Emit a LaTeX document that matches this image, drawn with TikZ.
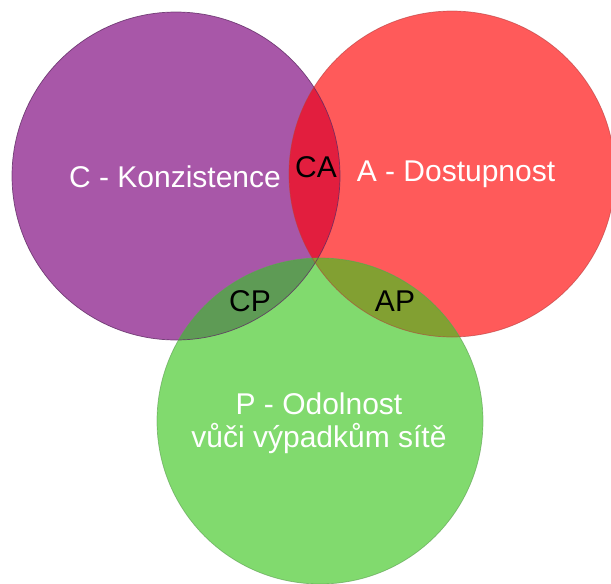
\documentclass[tikz,border=0pt]{standalone}
\usepackage{fontspec}
\setmainfont{Liberation Sans}
\definecolor{cfill}{HTML}{A857A8}
\definecolor{cline}{HTML}{5E2A63}
\definecolor{afill}{HTML}{FF5A5A}
\definecolor{aline}{HTML}{B43C3C}
\definecolor{pfill}{HTML}{81DA6E}
\definecolor{pline}{HTML}{5A9A50}
\definecolor{cafill}{HTML}{E21E3E}
\definecolor{cpfill}{HTML}{5E9B55}
\definecolor{apfill}{HTML}{82A032}
\tikzset{
  big/.style={font=\fontsize{30}{33}\selectfont, inner sep=0pt, align=center},
  setlabel/.style={big, text=white},
  pairlabel/.style={big, text=black},
}
\begin{document}
\begin{tikzpicture}[x=1pt,y=-1pt]
\useasboundingbox (0,0) rectangle (611,584);
% the three sets
\def\Cset{(176,176) circle[radius=164pt]}
\def\Aset{(452,174) circle[radius=163pt]}
\def\Pset{(320,421) circle[radius=163pt]}
\fill[cfill] \Cset;
\fill[afill] \Aset;
\fill[pfill] \Pset;
% pairwise overlaps
\begin{scope}\clip \Cset; \fill[cafill] \Aset; \end{scope}
\begin{scope}\clip \Cset; \fill[cpfill] \Pset; \end{scope}
\begin{scope}\clip \Aset; \fill[apfill] \Pset; \end{scope}
% outlines
\draw[cline, line width=0.7pt, opacity=0.8] \Cset;
\draw[aline, line width=0.7pt, opacity=0.6] \Aset;
\draw[pline, line width=0.7pt, opacity=0.6] \Pset;
% labels
\node[setlabel] (c) at (175,177) {C - Konzistence};
\node[setlabel] (a) at (456,174) {A - Dostupnost};
\node[setlabel] (p) at (319,423) {P - Odolnost\\vůči výpadkům sítě};
\node[pairlabel] (ca) at (316,167) {CA};
\node[pairlabel] (cp) at (250,301) {CP};
\node[pairlabel] (ap) at (395,301) {AP};
\end{tikzpicture}
\end{document}
